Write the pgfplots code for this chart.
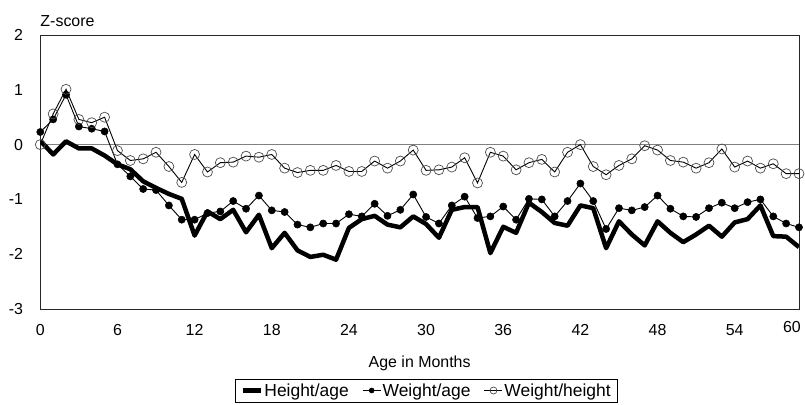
\documentclass[border=0pt]{standalone}
\usepackage{fontspec}
\setmainfont{Liberation Sans}
\usepackage{pgfplots}
\usepackage{pgfplotstable}
\pgfplotsset{compat=1.18}
\pgfplotstableread{
m H W C
0 0.07 0.23 0.00
1 -0.18 0.46 0.56
2 0.06 0.91 1.01
3 -0.07 0.33 0.46
4 -0.07 0.29 0.40
5 -0.20 0.24 0.50
6 -0.36 -0.36 -0.11
7 -0.45 -0.58 -0.29
8 -0.67 -0.81 -0.26
9 -0.79 -0.83 -0.14
10 -0.90 -1.11 -0.40
11 -0.99 -1.37 -0.69
12 -1.66 -1.37 -0.18
13 -1.22 -1.25 -0.50
14 -1.36 -1.22 -0.33
15 -1.19 -1.03 -0.32
16 -1.60 -1.17 -0.21
17 -1.28 -0.93 -0.23
18 -1.89 -1.20 -0.18
19 -1.61 -1.23 -0.43
20 -1.93 -1.46 -0.51
21 -2.05 -1.51 -0.47
22 -2.01 -1.44 -0.47
23 -2.10 -1.44 -0.38
24 -1.52 -1.27 -0.49
25 -1.36 -1.31 -0.49
26 -1.30 -1.08 -0.30
27 -1.46 -1.30 -0.43
28 -1.51 -1.19 -0.30
29 -1.31 -0.91 -0.10
30 -1.45 -1.32 -0.47
31 -1.70 -1.44 -0.46
32 -1.19 -1.11 -0.41
33 -1.14 -0.95 -0.24
34 -1.14 -1.34 -0.70
35 -1.98 -1.31 -0.14
36 -1.50 -1.13 -0.21
37 -1.61 -1.37 -0.46
38 -1.06 -0.99 -0.33
39 -1.23 -1.00 -0.27
40 -1.43 -1.31 -0.50
41 -1.48 -1.03 -0.14
42 -1.11 -0.71 0.00
43 -1.16 -1.03 -0.40
44 -1.89 -1.54 -0.55
45 -1.40 -1.16 -0.38
46 -1.64 -1.20 -0.26
47 -1.84 -1.14 -0.02
48 -1.40 -0.93 -0.10
49 -1.61 -1.17 -0.29
50 -1.78 -1.31 -0.32
51 -1.64 -1.32 -0.43
52 -1.48 -1.16 -0.33
53 -1.68 -1.06 -0.08
54 -1.42 -1.16 -0.41
55 -1.36 -1.05 -0.30
56 -1.11 -1.00 -0.43
57 -1.67 -1.31 -0.35
58 -1.68 -1.44 -0.53
59 -1.87 -1.51 -0.53
}\data
\begin{document}
\begin{tikzpicture}
\begin{axis}[
  at={(0,0)}, anchor=south west,
  scale only axis, width=758.7bp, height=274bp,
  xmin=0, xmax=59, ymin=-3, ymax=2,
  xtick={0,6,...,54}, ytick={-3,-2,...,2},
  extra x ticks={58.45}, extra x tick labels={60},
  extra x tick style={xticklabel style={yshift=3bp}},
  major tick length=0pt,
  clip mode=individual,
  axis line style={black!85, line width=0.8pt},
  font=\fontsize{16}{19}\selectfont,
  /pgf/number format/assume math mode=true,
  yticklabel style={anchor=east, inner sep=0pt, xshift=-17bp},
  xticklabel style={anchor=north, inner sep=0pt, yshift=-15.5bp},
  xlabel={Age in Months},
  xlabel style={at={(axis description cs:0.5,0)}, anchor=base, inner sep=0pt, yshift=-58.5bp},
  legend columns=3,
  legend image code/.code={\draw[mark repeat=2, mark phase=2, #1, /tikz/every mark/.append style={scale=0.7}] plot coordinates {(0bp,0bp) (9bp,0bp) (18bp,0bp)};},
  legend style={at={(axis description cs:0.5088,0)}, anchor=center, yshift=-81.5bp,
    draw=black, line width=0.8pt, font=\fontsize{17.5}{20}\selectfont,
    inner xsep=5bp, inner ysep=2.5bp,
    nodes={inner xsep=1.5bp},
    /tikz/every even column/.append style={column sep=12bp}},
  legend cell align=left,
]
\addplot[gray, line width=0.8pt, forget plot] coordinates {(0,0) (59,0)};
\addplot[black, line width=4.5bp, line join=round] table[x=m, y=H] {\data};
\addlegendentry{Height/age}
\addplot[black, line width=0.9bp, mark=*, mark size=3.6bp, mark options={line width=0.5bp}] table[x=m, y=W] {\data};
\addlegendentry{Weight/age}
\addplot[black, line width=0.9bp, mark=o, mark size=5bp, mark options={draw=black!70, line width=0.7bp}] table[x=m, y=C] {\data};
\addlegendentry{Weight/height}
\node[anchor=base west, inner sep=0pt] at (axis description cs:0,1) [yshift=8.3bp] {Z-score};
\end{axis}
\pgfresetboundingbox
\path[use as bounding box] (-40.3bp,-96bp) rectangle (764.7bp,309bp);
\end{tikzpicture}
\end{document}
